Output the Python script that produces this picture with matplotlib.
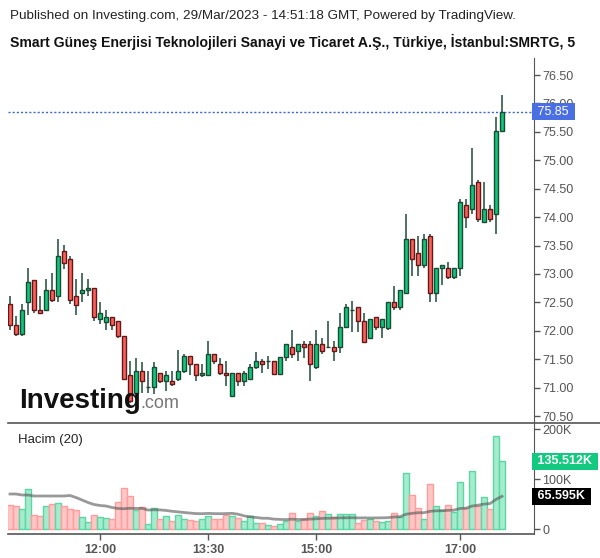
import numpy as np
import pandas as pd
import matplotlib
matplotlib.use("Agg")
import matplotlib.pyplot as plt
from matplotlib.lines import Line2D
from matplotlib.ticker import FuncFormatter

plt.rcParams['font.family'] = ['Liberation Sans', 'DejaVu Sans']

# 5 dakikalik mumlar, 10:45 - 17:35
times = pd.date_range("2023-03-29 10:45", periods=83, freq="5min")

opens = [72.47, 72.11, 71.95, 72.50, 72.90, 72.36, 72.36, 72.71, 72.61, 73.40,
         73.26, 72.61, 72.66, 72.71, 72.76, 72.20, 72.16, 72.25, 72.17, 71.90,
         71.22, 70.91, 71.30, 71.01, 71.01, 71.26, 71.11, 71.11, 71.16, 71.30,
         71.55, 71.41, 71.22, 71.22, 71.60, 71.41, 71.25, 70.86, 71.25, 71.11,
         71.16, 71.36, 71.47, 71.47, 71.46, 71.24, 71.54, 71.71, 71.65, 71.76,
         71.76, 71.36, 71.76, 71.71, 71.71, 71.71, 72.06, 72.36, 72.41, 72.17,
         71.87, 72.25, 72.06, 72.05, 72.50, 72.41, 72.66, 73.61, 73.36, 73.15,
         73.67, 72.66, 73.10, 73.10, 72.95, 73.10, 74.21, 74.15, 74.62, 73.91,
         74.15, 74.05, 75.51]
highs = [72.61, 72.26, 72.47, 73.11, 72.90, 72.61, 72.91, 73.02, 73.61, 73.51,
         73.32, 72.91, 73.02, 72.91, 72.76, 72.51, 72.37, 72.25, 72.17, 71.90,
         71.46, 71.52, 71.45, 71.30, 71.45, 71.26, 71.30, 71.30, 71.66, 71.60,
         71.55, 71.41, 71.41, 71.82, 71.60, 71.52, 71.46, 71.25, 71.25, 71.30,
         71.41, 71.62, 71.51, 71.55, 71.46, 71.54, 71.76, 72.01, 71.76, 71.82,
         71.82, 72.01, 71.87, 72.17, 71.82, 72.31, 72.47, 72.53, 72.41, 72.31,
         72.20, 72.25, 72.20, 72.50, 72.78, 72.71, 74.05, 73.61, 73.67, 73.70,
         73.70, 73.10, 73.15, 73.21, 73.10, 74.31, 74.31, 75.22, 74.65, 74.62,
         74.21, 75.76, 76.15]
lows = [72.02, 71.91, 71.91, 72.27, 72.32, 72.31, 72.36, 72.51, 72.51, 73.08,
        72.47, 72.27, 72.51, 72.61, 72.18, 72.12, 72.01, 72.01, 71.88, 71.16,
        70.73, 70.88, 70.91, 70.91, 70.88, 71.08, 70.94, 71.02, 71.12, 71.25,
        71.22, 71.12, 71.18, 71.22, 71.41, 71.22, 71.02, 70.86, 71.02, 71.02,
        71.13, 71.32, 71.26, 71.32, 71.22, 71.24, 71.47, 71.52, 71.47, 71.52,
        71.12, 71.32, 71.60, 71.71, 71.47, 71.61, 72.06, 71.97, 71.97, 71.81,
        71.87, 72.02, 71.88, 72.01, 72.36, 72.36, 72.66, 72.97, 72.97, 73.11,
        72.51, 72.51, 72.81, 72.91, 72.91, 72.97, 73.81, 74.06, 73.92, 73.91,
        73.92, 73.71, 75.51]
closes = [72.11, 71.95, 72.37, 72.85, 72.36, 72.31, 72.71, 72.55, 73.31, 73.20,
          72.55, 72.46, 72.71, 72.76, 72.25, 72.31, 72.25, 72.11, 71.90, 71.16,
          70.76, 71.30, 71.11, 71.01, 71.36, 71.11, 71.22, 71.06, 71.30, 71.55,
          71.41, 71.22, 71.26, 71.60, 71.46, 71.25, 71.22, 71.25, 71.11, 71.25,
          71.36, 71.46, 71.41, 71.47, 71.24, 71.54, 71.76, 71.60, 71.76, 71.71,
          71.41, 71.76, 71.65, 71.71, 71.65, 72.06, 72.41, 72.36, 72.17, 71.81,
          72.20, 72.06, 72.20, 72.50, 72.41, 72.71, 73.61, 73.26, 73.15, 73.61,
          72.66, 73.10, 73.15, 72.95, 73.10, 74.27, 74.01, 74.56, 73.96, 74.15,
          73.96, 75.51, 75.85]
# hacim (bin)
volumes_k = [48, 46, 40, 80, 29, 27, 46, 50, 52, 46, 40, 38, 24, 14, 29, 24, 22, 20, 54, 82,
             67, 38, 44, 11, 42, 20, 26, 16, 29, 20, 18, 16, 20, 26, 20, 20, 29, 27, 22, 16,
             27, 13, 13, 9, 7, 11, 17, 33, 17, 21, 33, 27, 37, 31, 25, 31, 31, 31, 13, 19,
             21, 17, 15, 17, 33, 25, 113, 69, 43, 21, 90, 46, 38, 49, 34, 95, 43, 116, 47, 65,
             41, 186, 135.512]
# ekranin solundaki ortalama (onceki mumlar gorunmuyor)
vol_ma_head_k = [70, 70, 68, 68, 66, 66, 66, 66, 66, 66, 67, 63, 58, 53, 49, 47, 46, 43, 41]

last_price = 75.85
price_ticks = [70.5, 71.0, 71.5, 72.0, 72.5, 73.0, 73.5, 74.0, 74.5, 75.0, 75.5, 76.0, 76.5]
vol_ticks = [0, 100000, 200000]
time_labels = ["12:00", "13:30", "15:00", "17:00"]

o = np.array(opens)
h = np.array(highs)
l = np.array(lows)
c = np.array(closes)
vol = np.array(volumes_k) * 1000
ma = pd.Series(vol).rolling(20).mean().values
ma[:len(vol_ma_head_k)] = np.array(vol_ma_head_k) * 1000
x = np.arange(len(o))
up = c >= o

GREEN = '#0fc67b'
RED = '#ff5f57'
WICK = '#1d4a35'
AXC = '#555555'

fig = plt.figure(figsize=(6.0, 5.58), dpi=100)
L, R = 8 / 600, 534 / 600
ax = fig.add_axes([L, 1 - 423 / 558, R - L, (423 - 58) / 558])
axv = fig.add_axes([L, 1 - 534 / 558, R - L, (534 - 423) / 558], sharex=ax)

# mumlar
ax.vlines(x, l, h, color=WICK, linewidth=1.1, zorder=2)
ax.bar(x, np.maximum(np.abs(c - o), 0.001), bottom=np.minimum(o, c), width=0.72,
       color=np.where(up, GREEN, RED), edgecolor=np.where(up, '#1b4a33', '#5e1a1a'),
       linewidth=1.0, zorder=3)
ax.axhline(last_price, color='#3d63dd', linestyle=(0, (1.5, 1.5)), linewidth=1.0, zorder=1)

ax.set_xlim(-0.33, 87.33)
ax.set_ylim(70.377, 76.80)
ax.yaxis.tick_right()
ax.set_yticks(price_ticks)
ax.yaxis.set_major_formatter(FuncFormatter(lambda v, p: f"{v:.2f}"))
ax.tick_params(axis='y', colors=AXC, labelcolor=AXC, labelsize=9, length=4, width=1, pad=2)
ax.tick_params(axis='x', bottom=False, labelbottom=False)
for s in ['top', 'left', 'bottom']:
    ax.spines[s].set_visible(False)
ax.spines['right'].set_color(AXC)

ax.text(1.0, last_price, " 75.85 ", transform=ax.get_yaxis_transform(), ha='left', va='center',
        color='white', fontsize=9, zorder=10, clip_on=False,
        bbox=dict(boxstyle='square,pad=0.2', facecolor='#4a6fe3', edgecolor='none'))

# Investing.com logosu
ax.text(0.022, 0.04, "Investing", transform=ax.transAxes, fontsize=20, fontweight='bold',
        color='#111111', va='baseline', ha='left', zorder=5)
ax.text(0.252, 0.04, ".com", transform=ax.transAxes, fontsize=13, color='#777777',
        va='baseline', ha='left', zorder=5)

# hacim
axv.bar(x, vol, width=0.88, color=np.where(up, '#a5ecce', '#ffc6c6'),
        edgecolor=np.where(up, '#5cd6a3', '#ff9c9c'), linewidth=1.0, zorder=2)
axv.plot(x, ma, color='#555555', alpha=0.6, linewidth=2, zorder=3)
axv.set_ylim(-10000, 212000)
axv.yaxis.tick_right()
axv.set_yticks(vol_ticks)
axv.yaxis.set_major_formatter(FuncFormatter(lambda v, p: "0" if v == 0 else f"{int(v / 1000)}K"))
axv.tick_params(axis='y', colors=AXC, labelcolor=AXC, labelsize=9, length=4, width=1, pad=2)
tick_pos = [i for i, t in enumerate(times) if t.strftime("%H:%M") in time_labels]
axv.set_xticks(tick_pos)
axv.set_xticklabels([times[i].strftime("%H:%M") for i in tick_pos], fontweight='bold')
axv.tick_params(axis='x', colors=AXC, labelcolor=AXC, labelsize=9, length=4, width=1, pad=3)
for s in ['top', 'left']:
    axv.spines[s].set_visible(False)
axv.spines['right'].set_color(AXC)
axv.spines['bottom'].set_color(AXC)
axv.spines['bottom'].set_linewidth(1.2)

axv.text(0.019, 0.845, "Hacim (20)", transform=axv.transAxes, fontsize=9.5, color='#222222',
         va='center', ha='left')
axv.text(1.0, vol[-1], " 135.512K ", transform=axv.get_yaxis_transform(), ha='left', va='center',
         color='white', fontsize=9, fontweight='bold',
         bbox=dict(boxstyle='square,pad=0.2', facecolor='#12c97f', edgecolor='none'))
axv.text(1.0, ma[-1], " 65.595K ", transform=axv.get_yaxis_transform(), ha='left', va='center',
         color='white', fontsize=9, fontweight='bold',
         bbox=dict(boxstyle='square,pad=0.2', facecolor='#000000', edgecolor='none'))

# paneller arasi cizgi
fig.add_artist(Line2D([L, 1.0], [1 - 423 / 558, 1 - 423 / 558], color=AXC, linewidth=1.2,
                      transform=fig.transFigure))

fig.text(10 / 600, 1 - 16 / 558, "Published on Investing.com, 29/Mar/2023 - 14:51:18 GMT, Powered by TradingView.",
         fontsize=9.7, color='#222222', va='center', ha='left')
fig.text(10 / 600, 1 - 42 / 558,
         "Smart Güneş Enerjisi Teknolojileri Sanayi ve Ticaret A.Ş., Türkiye, İstanbul:SMRTG, 5",
         fontsize=10.1, fontweight='bold', color='#111111', va='center', ha='left')

fig.savefig("out.png", dpi=100, facecolor='white')
